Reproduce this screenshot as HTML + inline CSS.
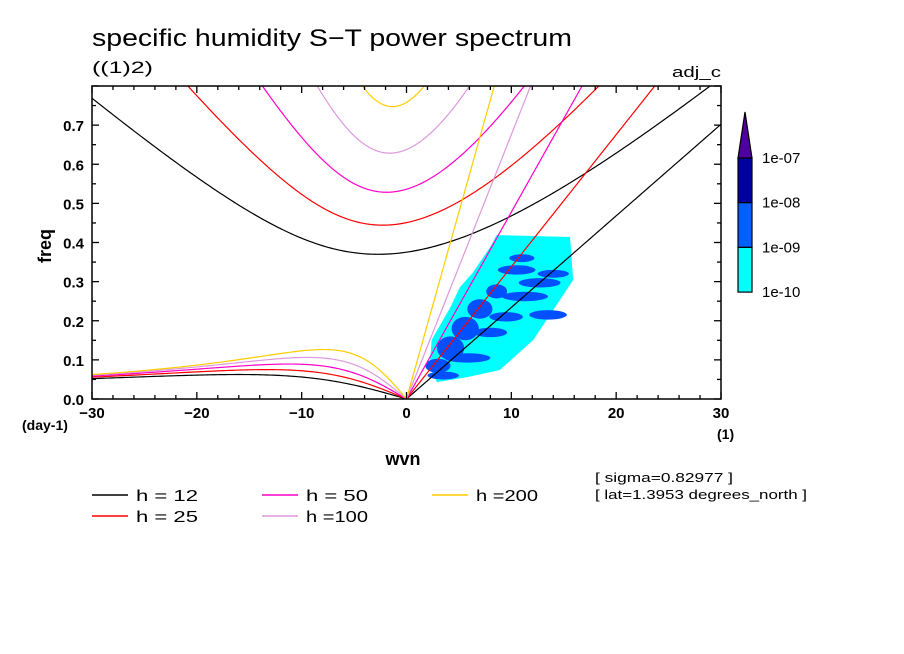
<!DOCTYPE html>
<html><head><meta charset="utf-8"><style>
body{margin:0;background:#fff;}
svg{display:block;font-family:"Liberation Sans",sans-serif;}
</style></head><body>
<svg id="c" width="904" height="654" viewBox="0 0 904 654">
<text x="92" y="46" font-size="24" textLength="480" lengthAdjust="spacingAndGlyphs">specific humidity S−T power spectrum</text>
<text x="92" y="73" font-size="17" textLength="61" lengthAdjust="spacingAndGlyphs">((1)2)</text>
<text x="672" y="77" font-size="15" textLength="49" lengthAdjust="spacingAndGlyphs">adj_c</text>
<text transform="translate(51,246) rotate(-90)" font-size="18" font-weight="bold" text-anchor="middle">freq</text>
<text x="403" y="465" font-size="18" font-weight="bold" text-anchor="middle">wvn</text>
<text x="22" y="430" font-size="14" font-weight="bold">(day-1)</text>
<text x="717" y="439" font-size="14" font-weight="bold">(1)</text>
<text x="595" y="482" font-size="13" textLength="138" lengthAdjust="spacingAndGlyphs">[ sigma=0.82977 ]</text>
<text x="595" y="499" font-size="13" textLength="212" lengthAdjust="spacingAndGlyphs">[ lat=1.3953 degrees_north ]</text>
<g id="g"></g>
</svg>
<script>
const hVals=[12,25,50,100,200];
const hColors=['#000000','#ff0000','#ff00c8','#dd99dd','#ffcc00'];
const xTicks=[-30,-20,-10,0,10,20,30];
const yTicks=[0.0,0.1,0.2,0.3,0.4,0.5,0.6,0.7];
const cyanW=[8.6,15.6,15.9,12.1,8.9,5.8,2.9,2.2,2.4,4.2,5.1,6.3,8.0];
const cyanF=[0.419,0.414,0.304,0.151,0.074,0.056,0.043,0.082,0.151,0.235,0.286,0.322,0.389];
const blueW=[3.0,4.2,5.6,7.0,8.6,11.3,12.7,10.5,13.5,9.5,11.0,5.8,3.5,14.0,8.0];
const blueF=[0.085,0.13,0.18,0.23,0.275,0.262,0.297,0.33,0.215,0.21,0.36,0.105,0.06,0.32,0.17];
const blueRW=[1.2,1.3,1.3,1.2,1.0,2.2,2.0,1.8,1.8,1.6,1.2,2.2,1.5,1.5,1.6];
const blueRF=[0.018,0.03,0.03,0.025,0.018,0.012,0.012,0.012,0.012,0.012,0.01,0.012,0.01,0.01,0.012];
const cbLabels=['1e-07','1e-08','1e-09','1e-10'];
const cbColors=['#0000a0','#0060ff','#00ffff'];
const L=92,R=721,T=86,B=399;
const X=w=>L+(w+30)/60*(R-L);
const Y=f=>B-f/0.8*(B-T);
const NS='http://www.w3.org/2000/svg';
const g=document.getElementById('g');
function mk(t,a){const e=document.createElementNS(NS,t);for(const k in a)e.setAttribute(k,a[k]);g.appendChild(e);return e;}
const clip=document.createElementNS(NS,'clipPath');clip.setAttribute('id','pc');
const cr=document.createElementNS(NS,'rect');cr.setAttribute('x',L);cr.setAttribute('y',T);cr.setAttribute('width',R-L);cr.setAttribute('height',B-T);clip.appendChild(cr);
document.getElementById('c').appendChild(clip);
// shading
let pts=cyanW.map((w,i)=>X(w)+','+Y(cyanF[i])).join(' ');
let e=mk('polygon',{points:pts,fill:'#00ffff'});


blueW.forEach((w,i)=>{
 const el=mk('ellipse',{cx:X(w),cy:Y(blueF[i]),rx:blueRW[i]*(R-L)/60,ry:blueRF[i]*(B-T)/0.8,fill:'#0050ff'});
 
 
});
// dispersion curves
const a=6.371e6,Om=7.292e-5,beta=2*Om/a,gr=9.8,cpd=86400/(2*Math.PI);
hVals.forEach((h,i)=>{
 const c=Math.sqrt(gr*h);let kel=[],eig=[],ros=[];
 for(let s=-30;s<=30.001;s+=0.25){
  const k=s/a;
  if(s>=0)kel.push(X(s)+','+Y(k*c*cpd));
  let w=Math.sqrt(3*beta*c+c*c*k*k);
  for(let it=0;it<50;it++){w=Math.sqrt(Math.max(1e-20,3*beta*c+c*c*k*k+beta*c*c*k/w));}
  eig.push(X(s)+','+Y(w*cpd));
  if(s<=0)ros.push(X(s)+','+Y(-beta*k/(k*k+3*beta/c)*cpd));
 }
 [['kelvin',kel],['gravity',eig],['rossby',ros]].forEach(([n,p])=>{
  const pl=mk('polyline',{points:p.join(' '),fill:'none',stroke:hColors[i],'stroke-width':1.2,'clip-path':'url(#pc)'});
  
  
 });
 const col=Math.floor(i/2),row=i%2;
 const lx=92+col*170,ly=495+row*21;
 const ln=mk('line',{x1:lx,y1:ly,x2:lx+36,y2:ly,stroke:hColors[i],'stroke-width':1.5});
 
 
 const tx=mk('text',{x:lx+44,y:ly+6,'font-size':16,textLength:62,lengthAdjust:'spacingAndGlyphs'});
 tx.textContent=h>=100?'h ='+h:'h = '+h;
 
 
});
// axes frame
const fr=mk('rect',{x:L,y:T,width:R-L,height:B-T,fill:'none',stroke:'#000','stroke-width':1.5});


for(let w=-30;w<=30;w+=2){const m=w%10===0?7:4;
 mk('line',{x1:X(w),y1:B,x2:X(w),y2:B-m,stroke:'#000','stroke-width':1.3});
 mk('line',{x1:X(w),y1:T,x2:X(w),y2:T+m,stroke:'#000','stroke-width':1.3});}
for(let k=0;k<=16;k++){const f=k*0.05,m=k%2===0?7:4;
 mk('line',{x1:L,y1:Y(f),x2:L+m,y2:Y(f),stroke:'#000','stroke-width':1.3});
 mk('line',{x1:R,y1:Y(f),x2:R-m,y2:Y(f),stroke:'#000','stroke-width':1.3});}
xTicks.forEach(v=>{const t=mk('text',{x:X(v),y:418,'font-size':15,'font-weight':'bold','text-anchor':'middle'});
 t.textContent=v<0?'−'+(-v):''+v;
 
 });
yTicks.forEach(v=>{const t=mk('text',{x:84,y:Y(v)+6,'font-size':15,'font-weight':'bold','text-anchor':'end'});
 t.textContent=v.toFixed(1);
 
 });
// colorbar
const tri=mk('polygon',{points:'745,112 738,158 752,158',fill:'#5000a0',stroke:'#000','stroke-width':1.2});


cbColors.forEach((c,i)=>{const r=mk('rect',{x:738,y:158+i*44.7,width:14,height:44.7,fill:c,stroke:'#000','stroke-width':1.2});
 
 });
cbLabels.forEach((s,i)=>{const t=mk('text',{x:762,y:163+i*44.7,'font-size':15});
 t.textContent=s;
 
 });
</script>
</body></html>
